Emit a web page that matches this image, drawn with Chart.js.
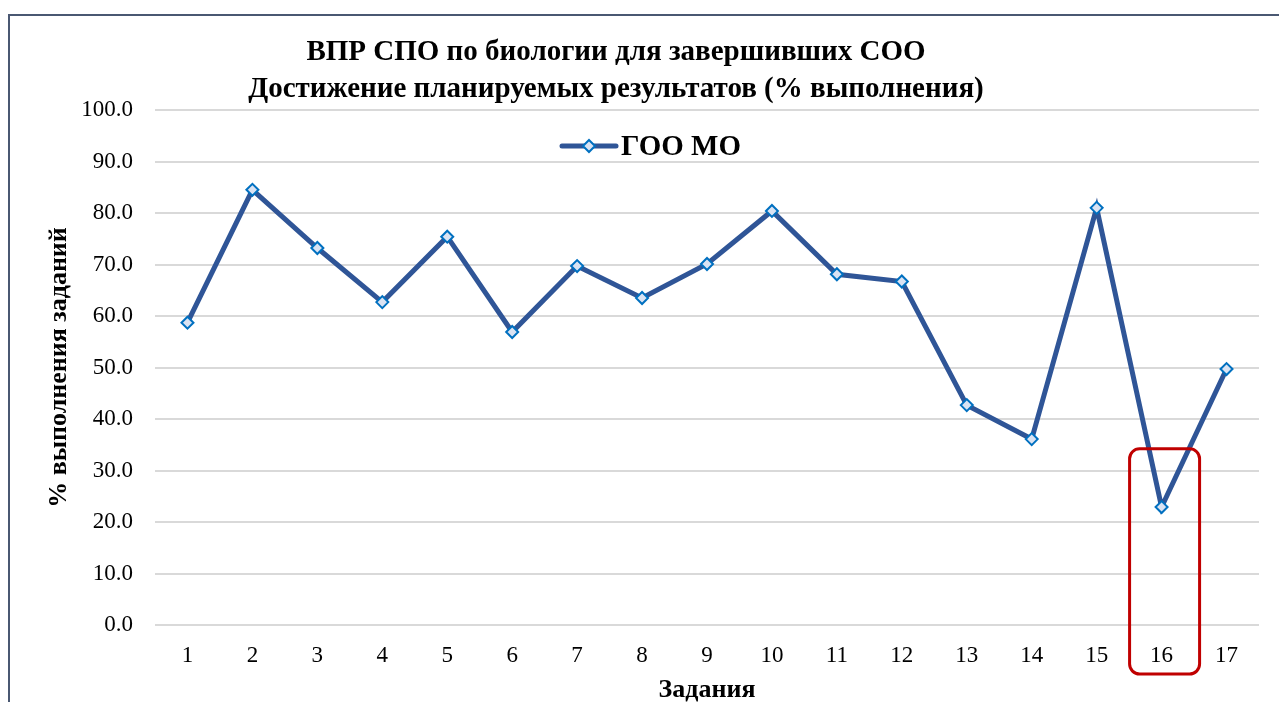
<!DOCTYPE html>
<html>
<head>
<meta charset="utf-8">
<script src="https://cdn.jsdelivr.net/npm/chart.js@4.4.0/dist/chart.umd.min.js"></script>
<style>
  html, body { margin: 0; padding: 0; background: #fff; }
  #wrap { width: 1279px; height: 702px; position: relative; }
</style>
</head>
<body>
<div id="wrap"><canvas id="resultChart"></canvas></div>
<script>
const tasks = ['1', '2', '3', '4', '5', '6', '7', '8', '9', '10', '11', '12', '13', '14', '15', '16', '17'];
const gooMo = [58.7, 84.5, 73.2, 62.7, 75.4, 56.9, 69.7, 63.5, 70.1, 80.4, 68.1, 66.7, 42.7, 36.1, 81.0, 22.9, 49.7];
const titleLines = ['ВПР СПО по биологии для завершивших СОО', 'Достижение планируемых результатов (% выполнения)'];
const seriesName = 'ГОО МО';
const highlightTask = '16';

const serif = '"Liberation Serif", "Times New Roman", serif';
const lineColor = '#2f5597';

// frame, title, legend and the red box around task 16
const decorPlugin = {
  id: 'decor',
  beforeDraw(chart) {
    const c = chart.ctx;
    c.save();
    c.fillStyle = '#fff';
    c.fillRect(0, 0, chart.width, chart.height);
    c.strokeStyle = '#4a5872';
    c.lineWidth = 2;
    c.strokeRect(9, 15, chart.width + 20, chart.height + 20);
    c.restore();
  },
  afterDraw(chart) {
    const c = chart.ctx;
    const x = chart.scales.x, y = chart.scales.y;
    c.save();
    // title
    c.fillStyle = '#000';
    c.textAlign = 'center';
    c.textBaseline = 'middle';
    c.font = 'bold 29px ' + serif;
    c.fillText(titleLines[0], 616, 53);
    c.fillText(titleLines[1], 616, 90);

    // legend
    const lx = 589, ly = 146;
    c.strokeStyle = lineColor;
    c.lineWidth = 5;
    c.lineCap = 'round';
    c.beginPath();
    c.moveTo(lx - 27, ly);
    c.lineTo(lx + 27, ly);
    c.stroke();
    drawDiamond(c, lx, ly, 6);
    c.fillStyle = '#000';
    c.textAlign = 'left';
    c.font = 'bold 29px ' + serif;
    c.fillText(seriesName, lx + 32, ly + 2);

    // highlight box
    const cx = x.getPixelForValue(tasks.indexOf(highlightTask));
    const top = y.getPixelForValue(34.2);
    const bottom = y.bottom + 49;
    c.strokeStyle = '#c00000';
    c.lineWidth = 3;
    c.beginPath();
    c.roundRect(cx - 32, top, 70, bottom - top, 10);
    c.stroke();
    c.restore();
  }
};

function drawDiamond(c, px, py, r) {
  c.save();
  c.fillStyle = '#dae3f3';
  c.strokeStyle = '#0070c0';
  c.lineWidth = 2;
  c.lineCap = 'butt';
  c.beginPath();
  c.moveTo(px, py - r);
  c.lineTo(px + r, py);
  c.lineTo(px, py + r);
  c.lineTo(px - r, py);
  c.closePath();
  c.fill();
  c.stroke();
  c.restore();
}

document.addEventListener('DOMContentLoaded', function() {
  const ctx = document.getElementById('resultChart').getContext('2d');
  new Chart(ctx, {
    type: 'line',
    data: {
      labels: tasks,
      datasets: [{
        label: seriesName,
        data: gooMo,
        borderColor: lineColor,
        borderWidth: 5,
        pointStyle: 'rectRot',
        pointRadius: 6,
        pointBackgroundColor: '#dae3f3',
        pointBorderColor: '#0070c0',
        pointBorderWidth: 2,
        tension: 0,
        fill: false
      }]
    },
    options: {
      responsive: true,
      maintainAspectRatio: false,
      animation: false,
      layout: { padding: { left: 40, right: 20, top: 110, bottom: 0 } },
      plugins: {
        legend: { display: false },
        title: { display: false },
        tooltip: { enabled: false }
      },
      scales: {
        x: {
          offset: true,
          grid: { display: false },
          border: { display: false },
          ticks: {
            color: '#000',
            padding: 9,
            font: { family: serif, size: 23 }
          },
          title: {
            display: true,
            text: 'Задания',
            color: '#000',
            padding: { top: 0, bottom: -4 },
            font: { family: serif, size: 26, weight: 'bold' }
          },
          afterFit(s) { s.height = 77; }
        },
        y: {
          min: 0,
          max: 100,
          grid: { color: '#d9d9d9', lineWidth: 2, drawTicks: false },
          border: { display: false },
          ticks: {
            stepSize: 10,
            color: '#000',
            padding: 22,
            font: { family: serif, size: 23 },
            callback: v => v.toFixed(1)
          },
          title: {
            display: true,
            text: '% выполнения заданий',
            color: '#000',
            padding: { top: 4, bottom: 0 },
            font: { family: serif, size: 26, weight: 'bold' }
          },
          afterFit(s) { s.width = 115; }
        }
      }
    },
    plugins: [decorPlugin]
  });
});
</script>
</body>
</html>
